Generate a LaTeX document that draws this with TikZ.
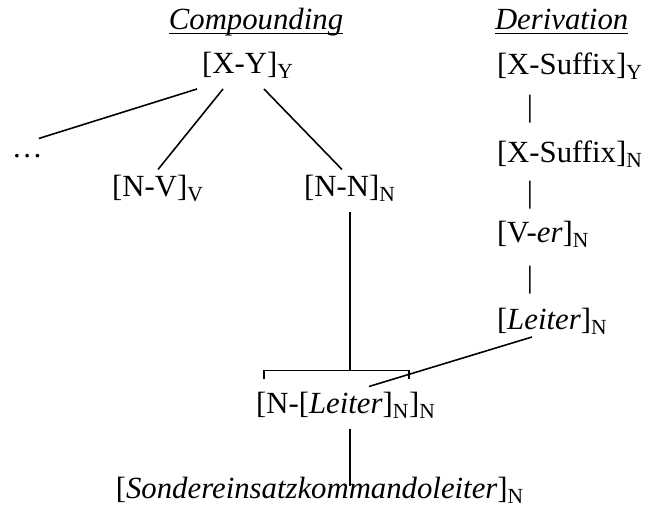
\documentclass[tikz,border=0pt]{standalone}
\usepackage{fontspec}
\setmainfont{Liberation Serif}
\usepackage{tikz}
\usetikzlibrary{calc}

\newcommand{\catsub}[1]{\textsubscript{#1}}

\tikzset{
  word/.style={inner sep=0pt, outer sep=0pt, text height=0.55cm, text depth=0.3cm},
  title/.style={inner sep=0pt, outer sep=0pt},
  bar/.style={inner sep=0pt, outer sep=0pt},
  link/.style={line width=0.9pt}
}

\begin{document}
\begin{tikzpicture}[font=\fontsize{17.5}{21}\selectfont]
\useasboundingbox (0,0) rectangle (13.02,10.16);

% column headings
\node[title, anchor=base] (tc) at (5.12,9.56) {\textit{Compounding}};
\node[title, anchor=base west] (td) at (9.9,9.56) {\textit{Derivation}};
\draw[line width=0.7pt] ([yshift=-0.07cm]tc.base west) -- ([yshift=-0.07cm]tc.base east);
\draw[line width=0.7pt] ([yshift=-0.07cm]td.base west) -- ([yshift=-0.07cm]td.base east);

% compounding tree
\node[word, anchor=base] (xy) at (4.96,8.68) {[X-Y]\catsub{Y}};
\node[word, anchor=base west] (dots) at (0.24,7.0) {…};
\node[word, anchor=base] (nv) at (3.16,6.22) {[N-V]\catsub{V}};
\node[word, anchor=base] (nn) at (7.0,6.22) {[N-N]\catsub{N}};
\node[word, anchor=base] (nl) at (6.92,1.88) {[N-[\textit{Leiter}]\catsub{N}]\catsub{N}};
\node[word, anchor=base] (sk) at (6.4,0.19) {[\textit{Sondereinsatzkommandoleiter}]\catsub{N}};

\draw[link] ([xshift=-1.02cm]xy.south) -- ([xshift=-0.08cm,yshift=-0.16cm]dots.north east);
\draw[link] ([xshift=-0.5cm]xy.south) -- (nv.north);
\draw[link] ([xshift=0.32cm]xy.south) -- ([xshift=-0.16cm]nn.north);

% bracket over the head of the compound
\draw[link] ([xshift=0.16cm,yshift=0.14cm]nl.north west) -- ++(0,0.18) coordinate (brl)
  -| ([xshift=-0.54cm,yshift=0.14cm]nl.north east);
\draw[link] (nn.south) -- (nn.south |- brl);
\draw[link] (nl.south -| nn.south) -- ([yshift=0.26cm]sk.base -| nn.south);

% derivation chain
\node[word, anchor=base west] (xsy) at (9.94,8.66) {[X-Suffix]\catsub{Y}};
\node[bar, anchor=base] (b1) at (10.6,7.82) {|};
\node[word, anchor=base west] (xsn) at (9.94,6.9) {[X-Suffix]\catsub{N}};
\node[bar, anchor=base] (b2) at (10.6,6.1) {|};
\node[word, anchor=base west] (ver) at (9.94,5.3) {[V-\textit{er}]\catsub{N}};
\node[bar, anchor=base] (b3) at (10.6,4.4) {|};
\node[word, anchor=base west] (lt) at (9.94,3.56) {[\textit{Leiter}]\catsub{N}};

\draw[link] ([xshift=0.7cm,yshift=0.16cm]lt.south west) -- ([xshift=0.46cm]nl.north);
\end{tikzpicture}
\end{document}
